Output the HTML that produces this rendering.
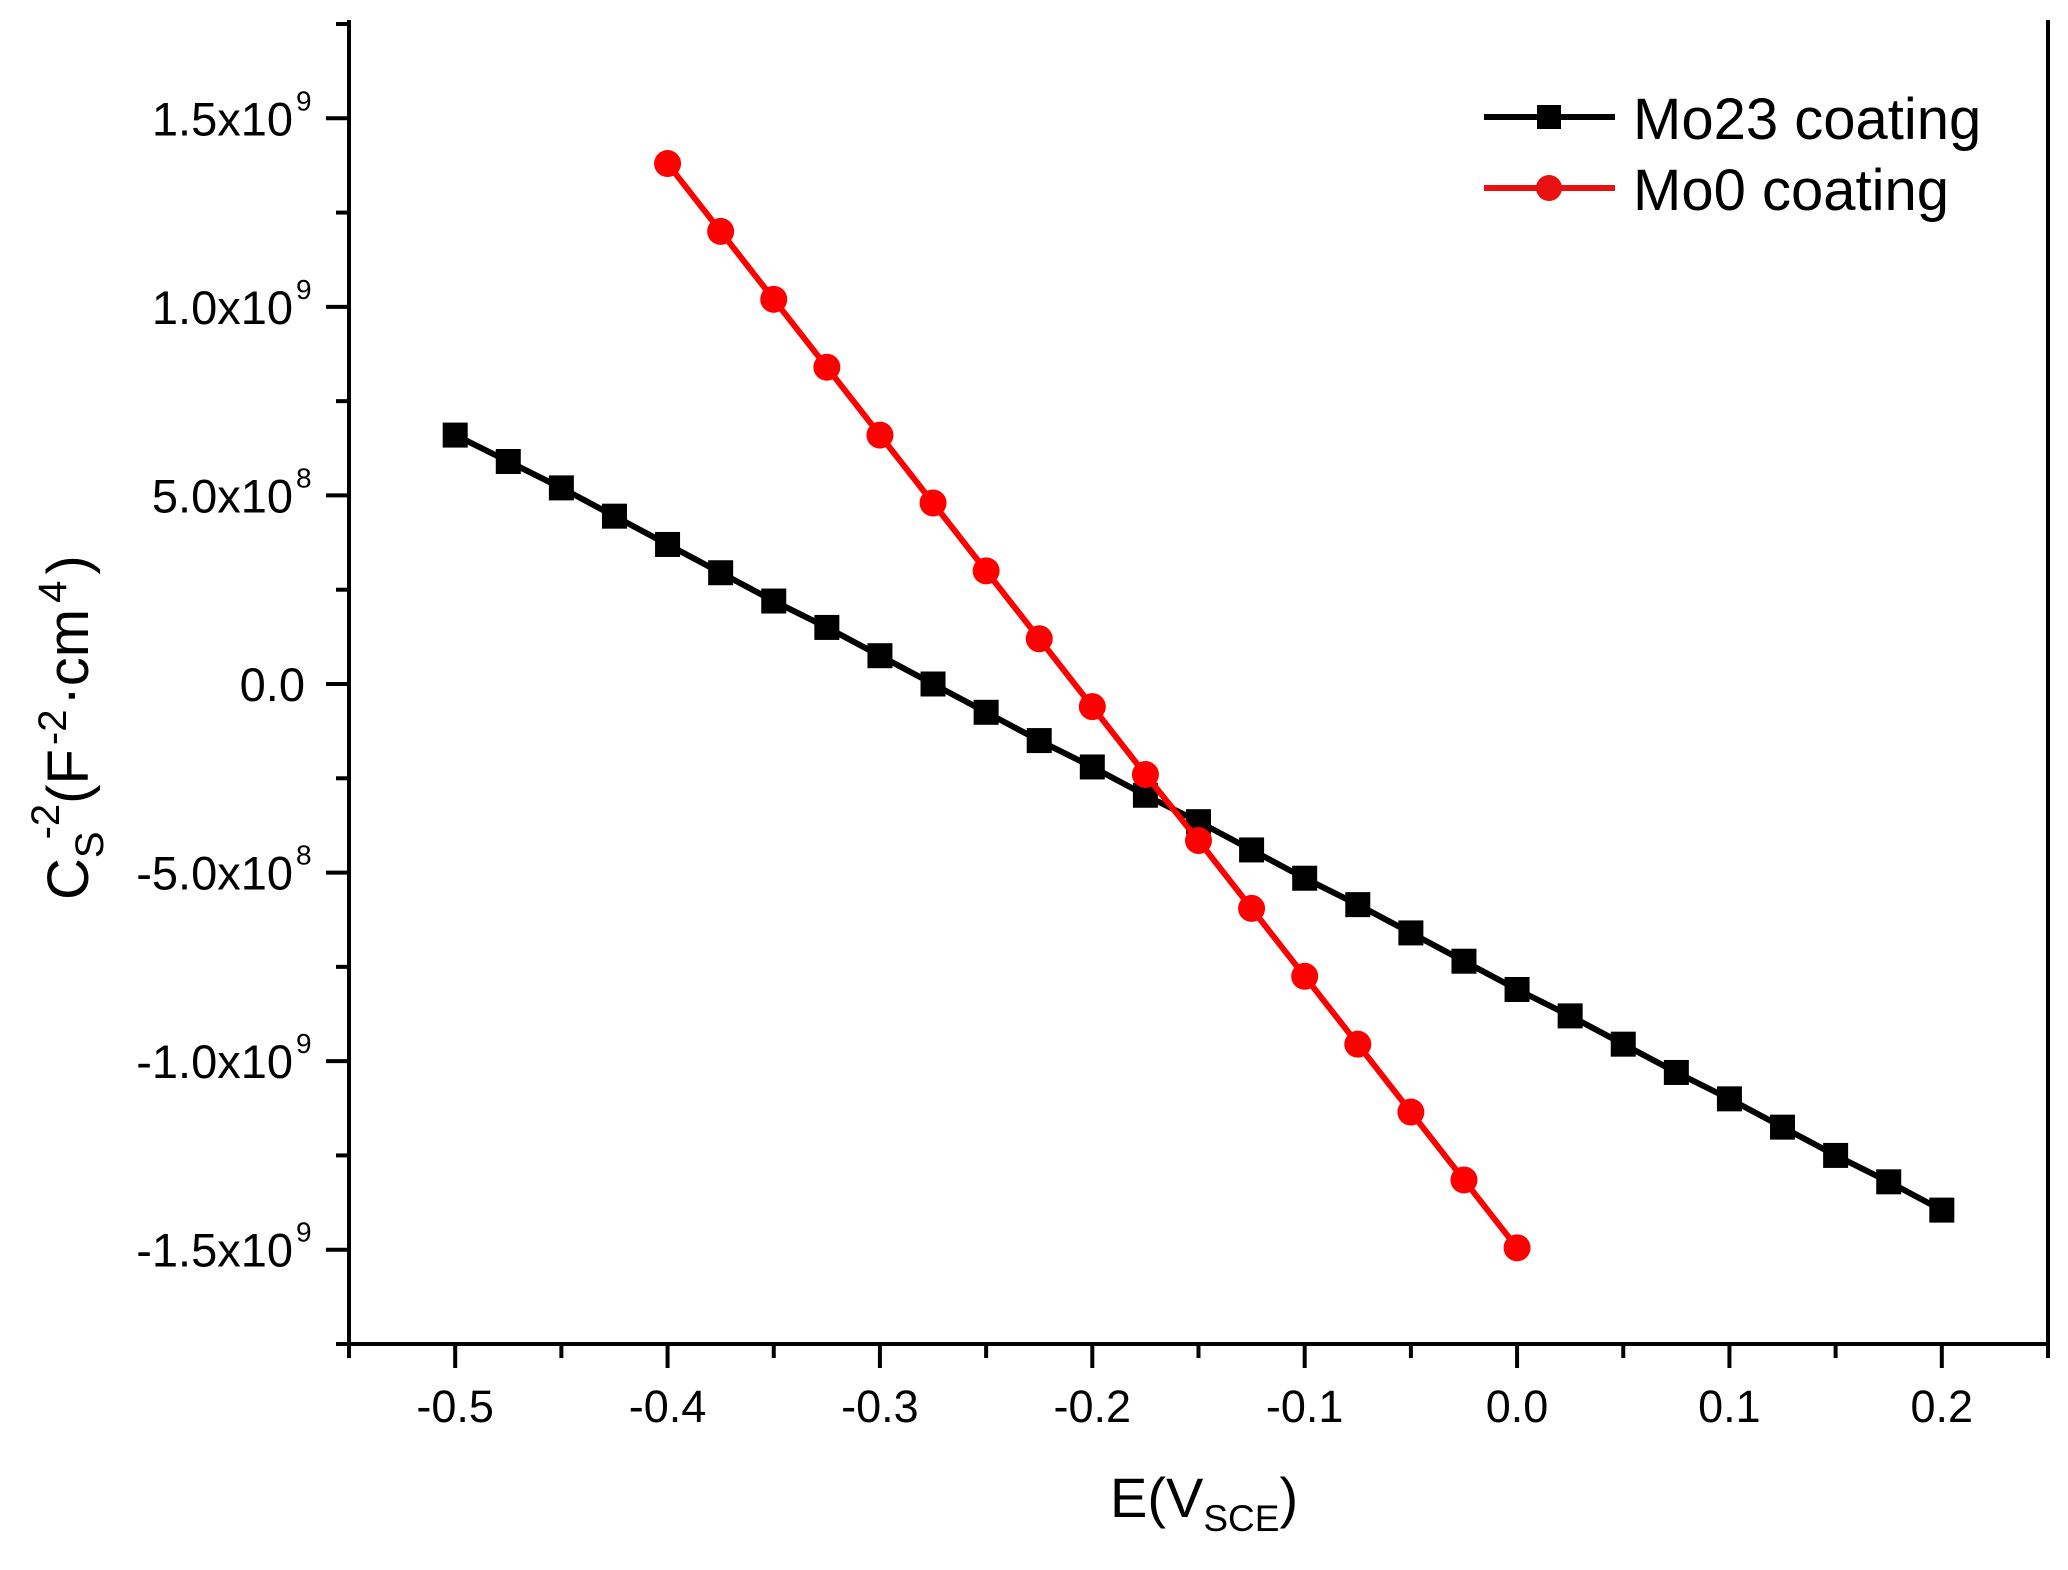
<!DOCTYPE html>
<html><head><meta charset="utf-8"><style>
html,body{margin:0;padding:0;background:#fff;}
svg{display:block;font-family:"Liberation Sans",Arial,sans-serif;}
</style></head><body>
<svg id="chart" width="2068" height="1570" viewBox="0 0 2068 1570" xmlns="http://www.w3.org/2000/svg">
<g id="axes"></g>
<g id="series"></g>
<g id="legend"></g>
</svg>
<script>
const mo23X = [-0.5,-0.475,-0.45,-0.425,-0.4,-0.375,-0.35,-0.325,-0.3,-0.275,-0.25,-0.225,-0.2,-0.175,-0.15,-0.125,-0.1,-0.075,-0.05,-0.025,0,0.025,0.05,0.075,0.1,0.125,0.15,0.175,0.2];
const mo23Y = [6.6,5.9,5.2,4.45,3.7,2.95,2.2,1.5,0.75,0,-0.75,-1.5,-2.2,-2.95,-3.65,-4.4,-5.15,-5.85,-6.6,-7.35,-8.1,-8.8,-9.55,-10.3,-11.0,-11.75,-12.5,-13.2,-13.95];
const mo0X = [-0.4,-0.375,-0.35,-0.325,-0.3,-0.275,-0.25,-0.225,-0.2,-0.175,-0.15,-0.125,-0.1,-0.075,-0.05,-0.025,0];
const mo0Y = [13.8,12.0,10.2,8.4,6.6,4.8,3.0,1.2,-0.6,-2.4,-4.15,-5.95,-7.75,-9.55,-11.35,-13.15,-14.95];
const xTicks = [-0.5,-0.4,-0.3,-0.2,-0.1,0.0,0.1,0.2];
const xTickLabels = ["-0.5","-0.4","-0.3","-0.2","-0.1","0.0","0.1","0.2"];
const yTicks = [15,10,5,0,-5,-10,-15];
const yTickMant = ["1.5x10","1.0x10","5.0x10","0.0","-5.0x10","-1.0x10","-1.5x10"];
const yTickExp = ["9","9","8","","8","9","9"];

const NS="http://www.w3.org/2000/svg";
const X0=349, X1=2048, XMIN=-0.55, XMAX=0.25;
const Y0=1344, Y1=24, YMIN=-17.5, YMAX=17.5;
const sx=v=>X0+(v-XMIN)/(XMAX-XMIN)*(X1-X0);
const sy=v=>Y0-(v-YMIN)/(YMAX-YMIN)*(Y0-Y1);
function mk(tag,attrs,parent){const e=document.createElementNS(NS,tag);for(const k in attrs)e.setAttribute(k,attrs[k]);parent.appendChild(e);return e;}
const axes=document.getElementById('axes'), series=document.getElementById('series'), legend=document.getElementById('legend');

let l=mk('line',{x1:X0,y1:Y1-4,x2:X0,y2:Y0+2,stroke:'#000','stroke-width':4},axes);


l=mk('line',{x1:X0-2,y1:Y0,x2:X1+2,y2:Y0,stroke:'#000','stroke-width':4},axes);


l=mk('line',{x1:X1,y1:Y1-4,x2:X1,y2:Y0,stroke:'#000','stroke-width':4},axes);



for(let v=-0.55;v<=0.2501;v+=0.05){
  const major=Math.abs(Math.round(v*10)-v*10)<1e-6;
  const t=mk('line',{x1:sx(v),y1:Y0,x2:sx(v),y2:Y0+(major?24:14),stroke:'#000','stroke-width':4},axes);
  
  
}
xTicks.forEach((v,i)=>{
  const t=mk('text',{x:sx(v),y:1422,'font-size':45,'text-anchor':'middle',fill:'#000'},axes);
  t.textContent=xTickLabels[i];
  
  
});
for(let v=-17.5;v<=17.51;v+=2.5){
  const major=Math.abs(v%5)<1e-6;
  const t=mk('line',{x1:X0-(major?23:13),y1:sy(v),x2:X0,y2:sy(v),stroke:'#000','stroke-width':4},axes);
  
  
}
yTicks.forEach((v,i)=>{
  const hasExp=yTickExp[i]!=="";
  const g=mk('text',{x:hasExp?293:305,y:sy(v)+17,'font-size':47,'text-anchor':'end',fill:'#000'},axes);
  g.textContent=yTickMant[i];
  
  
  if(hasExp){
    const e=mk('text',{x:296,y:sy(v)-8,'font-size':28,fill:'#000'},axes);
    e.textContent=yTickExp[i];
    
    
  }
});
const xt=mk('text',{x:1110,y:1517,'font-size':56,fill:'#000'},axes);
xt.innerHTML='E(V<tspan font-size="37" dy="14">SCE</tspan><tspan dy="-14">)</tspan>';


const yt=mk('text',{x:0,y:0,'font-size':58,fill:'#000',transform:'translate(88,900) rotate(-90)'},axes);
yt.innerHTML='C<tspan font-size="40" dy="15">S</tspan><tspan font-size="40" dx="-8" dy="-44">-2</tspan><tspan dy="29">(F</tspan><tspan font-size="40" dx="4" dy="-22">-2</tspan><tspan dx="4" dy="22">·cm</tspan><tspan font-size="40" dx="6" dy="-22">4</tspan><tspan dx="6" dy="22">)</tspan>';



function drawSeries(xs,ys,color,shape,name){
  const pts=xs.map((x,i)=>sx(x)+','+sy(ys[i])).join(' ');
  const p=mk('polyline',{points:pts,fill:'none',stroke:color,'stroke-width':6},series);
  
  
  xs.forEach((x,i)=>{
    let m;
    if(shape==='square') m=mk('rect',{x:sx(x)-12.5,y:sy(ys[i])-12.5,width:25,height:25,fill:color},series);
    else m=mk('circle',{cx:sx(x),cy:sy(ys[i]),r:13.5,fill:color},series);
    
    
  });
}
drawSeries(mo23X,mo23Y,'#000','square','mo23');
drawSeries(mo0X,mo0Y,'#f00','circle','mo0');

[[117,'#000','square','Mo23 coating','legend-mo23'],[188,'#e81010','circle','Mo0 coating','legend-mo0']].forEach(r=>{
  const [y,c,s,label,nm]=r;
  const ln=mk('line',{x1:1484,y1:y,x2:1615,y2:y,stroke:c,'stroke-width':6},legend);
  
  
  let m;
  if(s==='square') m=mk('rect',{x:1537,y:y-12,width:24,height:24,fill:c},legend);
  else m=mk('circle',{cx:1549,cy:y,r:13,fill:c},legend);
  
  
  const t=mk('text',{x:1633,y:y+22,'font-size':58,fill:'#000'},legend);
  t.textContent=label;
  
  
});
</script>
</body></html>
